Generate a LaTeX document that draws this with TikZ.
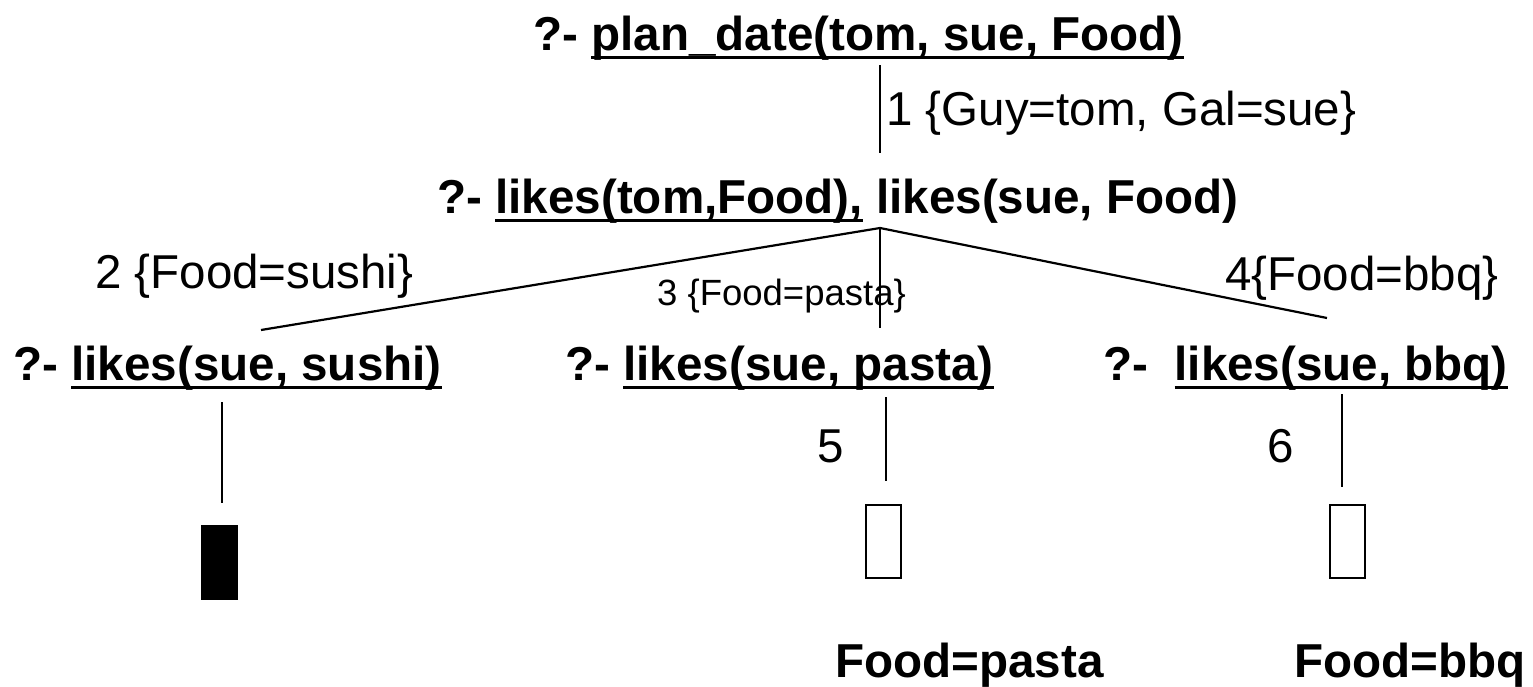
\documentclass[tikz,border=0pt]{standalone}
\usepackage{fontspec}
\setmainfont{Liberation Sans}
\newcommand\qul[1]{\setbox0\hbox{#1}\rlap{\raisebox{-8.8pt}{\rule{\wd0}{3.2pt}}}\box0\relax}
\tikzset{
  query/.style={anchor=base west, inner sep=0pt, font=\fontsize{47.6}{56}\selectfont\bfseries},
  lab/.style={anchor=base west, inner sep=0pt, font=\fontsize{47.5}{56}\selectfont},
  smalllab/.style={anchor=base west, inner sep=0pt, font=\fontsize{36.5}{42}\selectfont},
  edge/.style={line width=2.2pt},
  success/.style={draw, line width=2.6pt, minimum width=35pt, minimum height=73pt, inner sep=0pt},
  failure/.style={fill=black, minimum width=37pt, minimum height=75pt, inner sep=0pt},
}
\begin{document}
\begin{tikzpicture}[x=1pt, y=-1pt]
\useasboundingbox (0,0) rectangle (1533,686);
% queries
\node[query] (q0) at (533,50) {?- \qul{plan\_date(tom, sue, Food)}};
\node[query] (q1) at (437,213) {?- \qul{likes(tom,Food),} likes(sue, Food)};
\node[query] (q2) at (13,380) {?- \qul{likes(sue, sushi)}};
\node[query] (q3) at (565,380) {?- \qul{likes(sue, pasta)}};
\node[query] (q4) at (1103,380) {?-\ \ \qul{likes(sue, bbq)}};
% end boxes
\node[failure] (r2) at (219.5,562.5) {};
\node[success] (r3) at (883.5,541.5) {};
\node[success] (r4) at (1347.5,541.5) {};
% labels
\node[lab] (l1) at (886,125) {1 \{Guy=tom, Gal=sue\}};
\node[lab] (l2) at (95,288) {2 \{Food=sushi\}};
\node[smalllab] (l3) at (657,305) {3 \{Food=pasta\}};
\node[lab] (l4) at (1225,290) {4\{Food=bbq\}};
\node[lab] (l5) at (817,462) {5};
\node[lab] (l6) at (1267,462) {6};
\node[query] (a3) at (835,677) {Food=pasta};
\node[query] (a4) at (1294,677) {Food=bbq};
% connector ends
\coordinate (e0a) at (880,65);
\coordinate (e0b) at (880,153);
\coordinate (j) at (880,228);
\coordinate (e3) at (880,328);
\coordinate (e2) at (261,330);
\coordinate (e4) at (1327,318);
\coordinate (s2a) at (222,402);
\coordinate (s2b) at (222,503);
\coordinate (s3a) at (886,397);
\coordinate (s3b) at (886,481);
\coordinate (s4a) at (1342,394);
\coordinate (s4b) at (1342,487);
\draw[edge] (e0a) -- (e0b);
\draw[edge] (j) -- (e3);
\draw[edge] (j) -- (e2);
\draw[edge] (j) -- (e4);
\draw[edge] (s2a) -- (s2b);
\draw[edge] (s3a) -- (s3b);
\draw[edge] (s4a) -- (s4b);
\end{tikzpicture}
\end{document}
